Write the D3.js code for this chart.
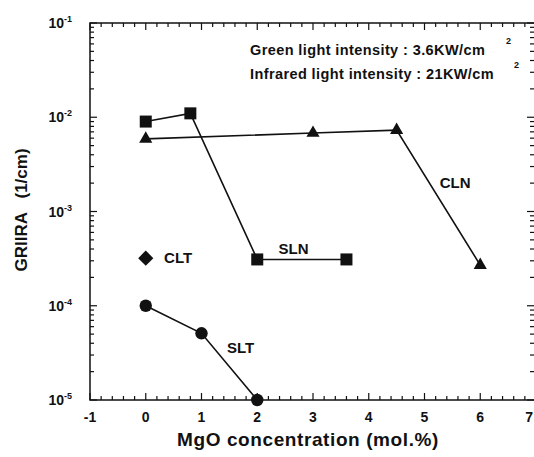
<!DOCTYPE html>
<html lang="en">
<head>
<meta charset="UTF-8">
<title>GRIIRA vs MgO concentration</title>
<script src="https://d3js.org/d3.v7.min.js"></script>
<style>
    body { margin: 0; background: #fff; font-family: "Liberation Sans", Arial, sans-serif; }
    text { fill: #111; }
</style>
</head>
<body>
<div id="chart"></div>
<script>
// Data
const slnX = [0, 0.8, 2, 3.6];
const slnY = [9e-3, 1.1e-2, 3.1e-4, 3.1e-4];
const clnX = [0, 3, 4.5, 6];
const clnY = [5.9e-3, 6.8e-3, 7.3e-3, 2.7e-4];
const sltX = [0, 1, 2];
const sltY = [1e-4, 5.1e-5, 1e-5];
const cltX = [0];
const cltY = [3.2e-4];
const xTicks = [-1, 0, 1, 2, 3, 4, 5, 6, 7];
const yTicks = [1e-5, 1e-4, 1e-3, 1e-2, 1e-1];

const W = 534, H = 457;
const mLeft = 90, mRight = 536, mTop = 23, mBottom = 400;

const svg = d3.select("#chart").append("svg")
    .attr("width", W).attr("height", H);

const x = d3.scaleLinear().domain([-1, 7]).range([mLeft, mRight]);
const y = d3.scaleLog().domain([1e-5, 1e-1]).range([mBottom, mTop]);

// frame
svg.append("rect")
    .attr("x", mLeft).attr("y", mTop)
    .attr("width", mRight - mLeft).attr("height", mBottom - mTop)
    .attr("fill", "none").attr("stroke", "#111").attr("stroke-width", 1.5);

// x ticks (bottom pointing up, top pointing down)
const xMinor = d3.range(-1, 7.001, 0.2).map(v => +v.toFixed(1));
const xt = svg.append("g");
xMinor.forEach(v => {
    const major = Math.abs(v - Math.round(v)) < 1e-6;
    const len = major ? 7 : 4;
    xt.append("line").attr("x1", x(v)).attr("x2", x(v))
        .attr("y1", mBottom).attr("y2", mBottom - len)
        .attr("stroke", "#111").attr("stroke-width", 1.2);
    xt.append("line").attr("x1", x(v)).attr("x2", x(v))
        .attr("y1", mTop).attr("y2", mTop + len)
        .attr("stroke", "#111").attr("stroke-width", 1.2);
});
svg.append("g").selectAll("text").data(xTicks).enter().append("text")
    .attr("x", d => d === 7 ? 533 : x(d)).attr("y", mBottom + 22)
    .attr("text-anchor", d => d === 7 ? "end" : "middle")
    .attr("font-size", 14).attr("font-weight", "bold")
    .text(d => d);

// y ticks (left pointing right, right pointing left)
const yt = svg.append("g");
for (let e = -5; e < 0; e++) {
    for (let m = 1; m <= 9; m++) {
        const v = m * Math.pow(10, e);
        const len = m === 1 ? 7 : 4;
        yt.append("line").attr("x1", mLeft).attr("x2", mLeft + len)
            .attr("y1", y(v)).attr("y2", y(v))
            .attr("stroke", "#111").attr("stroke-width", 1.2);
        yt.append("line").attr("x1", mRight).attr("x2", mRight - len - 2)
            .attr("y1", y(v)).attr("y2", y(v))
            .attr("stroke", "#111").attr("stroke-width", 1.2);
    }
}
const yl = svg.append("g").selectAll("text").data(yTicks).enter().append("text")
    .attr("x", 72).attr("y", d => y(d) + 5)
    .attr("text-anchor", "end")
    .attr("font-size", 14).attr("font-weight", "bold");
yl.append("tspan").text("10");
yl.append("tspan").attr("dy", -6).attr("font-size", 9)
    .text(d => Math.round(Math.log10(d)));

// axis titles
svg.append("text")
    .attr("x", 308).attr("y", 446)
    .attr("text-anchor", "middle")
    .attr("font-size", 19).attr("font-weight", "bold")
    .attr("letter-spacing", 0.6)
    .text("MgO concentration (mol.%)");
svg.append("text")
    .attr("transform", "translate(27,210) rotate(-90)")
    .attr("text-anchor", "middle")
    .attr("font-size", 17).attr("font-weight", "bold")
    .attr("xml:space", "preserve")
    .text("GRIIRA   (1/cm)");

// series
const line = d3.line().x(d => x(d[0])).y(d => y(d[1]));
function series(xs, ys) { return xs.map((v, i) => [v, ys[i]]); }

const sln = series(slnX, slnY), cln = series(clnX, clnY),
      slt = series(sltX, sltY), clt = series(cltX, cltY);

[sln, cln, slt].forEach(s => {
    svg.append("path").datum(s).attr("d", line)
        .attr("fill", "none").attr("stroke", "#111").attr("stroke-width", 1.6);
});

svg.append("g").selectAll("rect").data(sln).enter().append("rect")
    .attr("x", d => x(d[0]) - 6).attr("y", d => y(d[1]) - 6)
    .attr("width", 12).attr("height", 12).attr("fill", "#111");
svg.append("g").selectAll("path").data(cln).enter().append("path")
    .attr("transform", d => `translate(${x(d[0])},${y(d[1])})`)
    .attr("d", d3.symbol().type(d3.symbolTriangle).size(75))
    .attr("fill", "#111");
svg.append("g").selectAll("circle").data(slt).enter().append("circle")
    .attr("cx", d => x(d[0])).attr("cy", d => y(d[1])).attr("r", 6.2)
    .attr("fill", "#111");
svg.append("g").selectAll("path").data(clt).enter().append("path")
    .attr("transform", d => `translate(${x(d[0])},${y(d[1])}) rotate(45)`)
    .attr("d", d3.symbol().type(d3.symbolSquare).size(115))
    .attr("fill", "#111");

// series labels
const labels = [
    { t: "CLT", x: 0.58, y: 3.2e-4 },
    { t: "SLN", x: 2.65, y: 4.0e-4 },
    { t: "CLN", x: 5.55, y: 2.0e-3 },
    { t: "SLT", x: 1.7, y: 3.6e-5 }
];
svg.append("g").selectAll("text").data(labels).enter().append("text")
    .attr("x", d => x(d.x)).attr("y", d => y(d.y) + 5)
    .attr("text-anchor", "middle")
    .attr("font-size", 15).attr("font-weight", "bold")
    .text(d => d.t);

// annotation
const ann = [
    { t: "Green light intensity : 3.6KW/cm", y: 55, sx: 506 },
    { t: "Infrared light intensity : 21KW/cm", y: 79, sx: 514 }
];
ann.forEach(a => {
    svg.append("text").attr("x", 250).attr("y", a.y)
        .attr("font-size", 14.5).attr("font-weight", "bold")
        .attr("letter-spacing", 0.4).text(a.t);
    svg.append("text").attr("x", a.sx).attr("y", a.y - 11)
        .attr("font-size", 9).attr("font-weight", "bold").text("2");
});
</script>
</body>
</html>
